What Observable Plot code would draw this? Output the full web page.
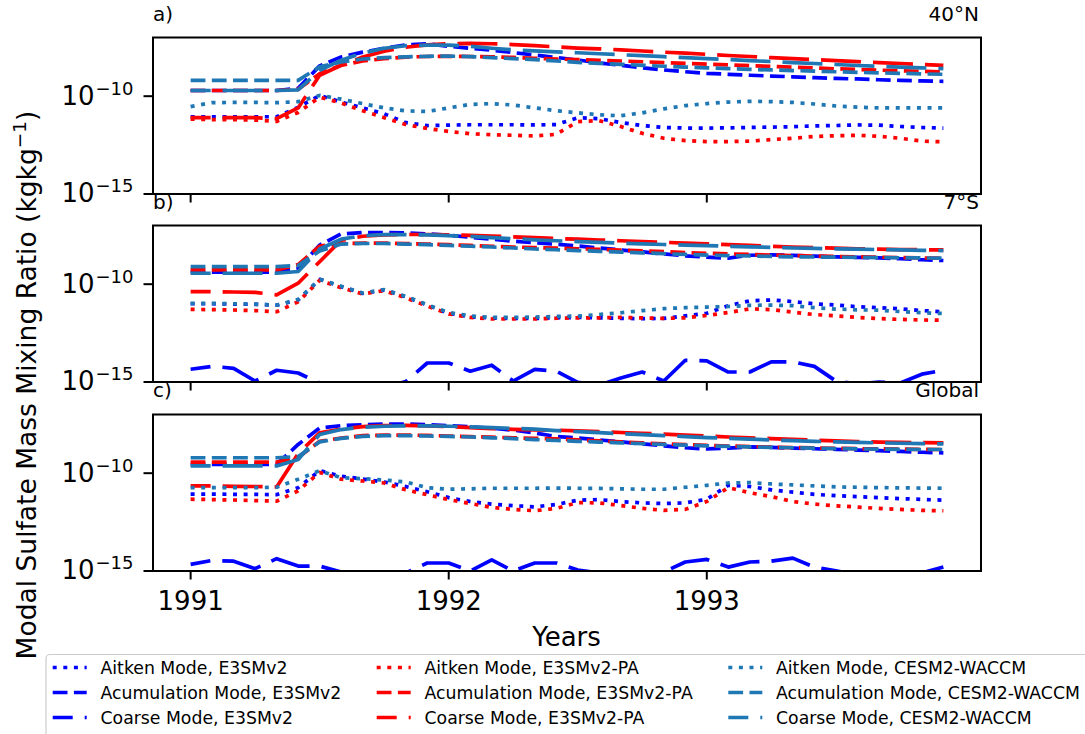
<!DOCTYPE html>
<html>
<head>
<meta charset="utf-8">
<script src="https://cdn.jsdelivr.net/npm/d3@7"></script>
<script src="https://cdn.jsdelivr.net/npm/@observablehq/plot@0.6"></script>
<style>
html, body { margin: 0; padding: 0; background: #fff; }
#fig { position: relative; width: 1085px; height: 734px; overflow: hidden; font-family: "DejaVu Sans", sans-serif; }
#fig > svg { position: absolute; left: 0; overflow: visible; }
</style>
</head>
<body>
<div id="fig"></div>
<script>
// ---------- DATA (log10 of mass mixing ratio, kg/kg), monthly Jan 1991 .. Dec 1993 ----------
const startYear = 1991;
const nMonths = 36;
const xTicks = [1991, 1992, 1993];
const yTicks = [1e-15, 1e-10];

// a) 40°N
const aitken_E3SMv2_40N = [-11.05,-11.05,-11.05,-11.05,-11.05,-10.57,-9.96,-10.3,-10.6,-10.9,-11.35,-11.5,-11.48,-11.46,-11.46,-11.46,-11.47,-11.45,-11.1,-11.15,-11.35,-11.5,-11.6,-11.63,-11.63,-11.62,-11.6,-11.58,-11.56,-11.52,-11.5,-11.47,-11.48,-11.55,-11.6,-11.63];
const accum_E3SMv2_40N = [-9.71,-9.71,-9.71,-9.71,-9.71,-9.6,-8.45,-8.0,-7.75,-7.55,-7.38,-7.32,-7.45,-7.55,-7.65,-7.77,-7.9,-8.02,-8.15,-8.3,-8.42,-8.55,-8.66,-8.75,-8.83,-8.88,-8.93,-8.97,-9.01,-9.05,-9.09,-9.12,-9.16,-9.19,-9.22,-9.24];
const coarse_E3SMv2_40N = [-15.8,-15.9,-15.7,-15.8,-15.9,-15.8,-15.6,-15.7,-15.8,-15.9,-15.8,-15.7,-15.6,-15.7,-15.8,-15.9,-15.8,-15.7,-15.8,-15.9,-15.8,-15.7,-15.6,-15.7,-15.8,-15.9,-15.8,-15.7,-15.8,-15.9,-15.8,-15.7,-15.6,-15.7,-15.8,-15.9];
const aitken_PA_40N = [-11.17,-11.2,-11.2,-11.22,-11.29,-10.83,-10.05,-10.35,-10.75,-11.1,-11.45,-11.65,-11.8,-11.92,-11.97,-12.0,-12.03,-11.95,-11.3,-11.25,-11.55,-11.9,-12.15,-12.27,-12.32,-12.32,-12.3,-12.22,-12.15,-12.06,-12.02,-12.0,-12.05,-12.15,-12.3,-12.33];
const accum_PA_40N = [-9.71,-9.71,-9.71,-9.71,-9.71,-9.65,-8.85,-8.42,-8.2,-8.08,-8.0,-7.97,-7.96,-7.97,-7.99,-8.02,-8.06,-8.1,-8.13,-8.17,-8.2,-8.24,-8.28,-8.32,-8.36,-8.4,-8.44,-8.48,-8.52,-8.56,-8.6,-8.63,-8.67,-8.7,-8.73,-8.76];
const coarse_PA_40N = [-11.1,-11.1,-11.1,-11.1,-11.15,-10.6,-8.93,-8.42,-8.0,-7.7,-7.5,-7.38,-7.32,-7.3,-7.32,-7.36,-7.42,-7.48,-7.54,-7.58,-7.63,-7.69,-7.75,-7.8,-7.86,-7.92,-7.97,-8.03,-8.08,-8.13,-8.18,-8.23,-8.28,-8.33,-8.38,-8.42];
const aitken_CESM_40N = [-10.53,-10.33,-10.32,-10.32,-10.33,-10.28,-9.96,-10.15,-10.38,-10.6,-10.75,-10.78,-10.6,-10.42,-10.38,-10.45,-10.6,-10.74,-10.85,-10.95,-11.0,-10.85,-10.65,-10.48,-10.38,-10.3,-10.26,-10.28,-10.32,-10.4,-10.5,-10.56,-10.6,-10.6,-10.6,-10.6];
const accum_CESM_40N = [-9.19,-9.19,-9.19,-9.19,-9.19,-9.19,-8.5,-8.25,-8.1,-8.03,-7.99,-7.96,-7.95,-7.98,-8.03,-8.08,-8.13,-8.2,-8.27,-8.32,-8.37,-8.42,-8.47,-8.51,-8.55,-8.59,-8.63,-8.66,-8.69,-8.72,-8.75,-8.78,-8.81,-8.83,-8.86,-8.88];
const coarse_CESM_40N = [-9.71,-9.71,-9.71,-9.71,-9.71,-9.68,-8.68,-8.16,-7.8,-7.55,-7.42,-7.39,-7.39,-7.45,-7.55,-7.63,-7.68,-7.73,-7.78,-7.83,-7.88,-7.93,-7.98,-8.03,-8.08,-8.13,-8.18,-8.23,-8.28,-8.33,-8.38,-8.43,-8.47,-8.51,-8.55,-8.59];

// b) 7°S
const aitken_E3SMv2_7S = [-11.0,-11.0,-11.02,-11.03,-11.07,-10.81,-9.75,-10.13,-10.47,-10.3,-10.64,-11.07,-11.49,-11.67,-11.73,-11.75,-11.75,-11.72,-11.7,-11.72,-11.75,-11.76,-11.75,-11.62,-11.49,-11.1,-10.85,-10.81,-10.89,-11.0,-11.07,-11.15,-11.2,-11.26,-11.35,-11.41];
const accum_E3SMv2_7S = [-9.38,-9.38,-9.38,-9.38,-9.38,-9.2,-8.0,-7.43,-7.36,-7.36,-7.38,-7.43,-7.5,-7.6,-7.7,-7.8,-7.88,-7.96,-8.05,-8.15,-8.25,-8.35,-8.45,-8.55,-8.62,-8.67,-8.52,-8.5,-8.53,-8.57,-8.6,-8.63,-8.66,-8.7,-8.75,-8.79];
const coarse_E3SMv2_7S = [-14.35,-14.2,-14.3,-14.95,-14.4,-14.54,-15.05,-15.4,-15.4,-15.3,-14.98,-14.03,-14.03,-14.45,-14.14,-14.95,-14.35,-14.45,-15.02,-15.15,-14.8,-14.49,-14.95,-13.89,-13.92,-14.49,-14.49,-13.97,-13.97,-14.2,-14.95,-15.1,-15.0,-15.05,-14.6,-14.4];
const aitken_PA_7S = [-11.29,-11.3,-11.32,-11.35,-11.41,-10.9,-9.8,-10.18,-10.5,-10.33,-10.7,-11.12,-11.52,-11.7,-11.78,-11.78,-11.78,-11.74,-11.72,-11.72,-11.7,-11.72,-11.75,-11.72,-11.6,-11.45,-11.26,-11.3,-11.43,-11.55,-11.62,-11.7,-11.76,-11.8,-11.83,-11.84];
const accum_PA_7S = [-9.27,-9.27,-9.27,-9.27,-9.27,-9.0,-8.05,-7.92,-7.9,-7.9,-7.92,-7.95,-7.98,-8.02,-8.06,-8.1,-8.13,-8.16,-8.19,-8.22,-8.26,-8.3,-8.34,-8.38,-8.42,-8.45,-8.48,-8.51,-8.54,-8.56,-8.58,-8.6,-8.62,-8.64,-8.66,-8.67];
const coarse_PA_7S = [-10.38,-10.38,-10.4,-10.42,-10.55,-9.95,-8.85,-7.75,-7.55,-7.48,-7.46,-7.46,-7.48,-7.5,-7.54,-7.58,-7.62,-7.67,-7.7,-7.74,-7.78,-7.82,-7.86,-7.9,-7.94,-7.98,-8.02,-8.06,-8.1,-8.13,-8.16,-8.19,-8.21,-8.23,-8.24,-8.25];
const aitken_CESM_7S = [-10.98,-10.98,-11.0,-11.02,-11.07,-10.78,-9.75,-10.1,-10.45,-10.28,-10.62,-11.05,-11.45,-11.62,-11.7,-11.7,-11.68,-11.65,-11.63,-11.55,-11.46,-11.35,-11.25,-11.2,-11.17,-11.14,-11.08,-11.07,-11.1,-11.2,-11.27,-11.31,-11.33,-11.4,-11.46,-11.5];
const accum_CESM_7S = [-9.1,-9.1,-9.1,-9.1,-9.1,-9.05,-8.3,-7.95,-7.92,-7.92,-7.95,-7.98,-8.02,-8.06,-8.1,-8.15,-8.2,-8.24,-8.28,-8.32,-8.36,-8.4,-8.44,-8.48,-8.51,-8.54,-8.56,-8.58,-8.6,-8.61,-8.62,-8.63,-8.64,-8.65,-8.66,-8.67];
const coarse_CESM_7S = [-9.44,-9.44,-9.44,-9.44,-9.44,-9.35,-8.2,-7.7,-7.52,-7.47,-7.47,-7.48,-7.52,-7.56,-7.62,-7.68,-7.73,-7.78,-7.82,-7.86,-7.9,-7.94,-7.97,-8.0,-8.03,-8.06,-8.09,-8.12,-8.15,-8.17,-8.19,-8.21,-8.23,-8.25,-8.27,-8.28];

// c) Global
const aitken_E3SMv2_GL = [-11.07,-11.07,-11.08,-11.08,-11.1,-10.74,-9.87,-10.15,-10.3,-10.45,-10.68,-10.95,-11.25,-11.45,-11.58,-11.66,-11.72,-11.6,-11.38,-11.35,-11.45,-11.52,-11.55,-11.52,-11.33,-10.62,-10.68,-10.85,-10.97,-11.08,-11.15,-11.2,-11.25,-11.3,-11.34,-11.38];
const accum_E3SMv2_GL = [-9.55,-9.55,-9.55,-9.55,-9.55,-8.53,-7.69,-7.57,-7.52,-7.49,-7.49,-7.52,-7.57,-7.63,-7.7,-7.8,-7.95,-8.12,-8.2,-8.3,-8.4,-8.5,-8.6,-8.7,-8.76,-8.72,-8.66,-8.68,-8.72,-8.75,-8.78,-8.82,-8.85,-8.89,-8.93,-8.96];
const coarse_E3SMv2_GL = [-14.66,-14.46,-14.5,-14.88,-14.37,-14.75,-14.75,-15.05,-15.3,-15.3,-15.1,-14.59,-14.59,-15.0,-14.43,-15.0,-14.59,-14.59,-14.95,-15.1,-15.2,-15.2,-15.05,-14.54,-14.41,-14.8,-14.54,-14.5,-14.34,-14.8,-14.99,-15.2,-15.3,-15.3,-15.1,-14.8];
const aitken_PA_GL = [-11.33,-11.35,-11.37,-11.4,-11.43,-10.9,-9.96,-10.31,-10.4,-10.5,-10.85,-11.1,-11.35,-11.55,-11.75,-11.85,-11.92,-11.8,-11.5,-11.52,-11.65,-11.8,-11.9,-11.85,-11.45,-10.74,-11.0,-11.2,-11.45,-11.58,-11.67,-11.73,-11.8,-11.85,-11.9,-11.92];
const accum_PA_GL = [-9.43,-9.43,-9.43,-9.43,-9.43,-9.2,-8.37,-8.2,-8.08,-8.05,-8.05,-8.07,-8.1,-8.13,-8.16,-8.19,-8.22,-8.25,-8.3,-8.35,-8.4,-8.45,-8.5,-8.54,-8.58,-8.61,-8.64,-8.67,-8.69,-8.71,-8.73,-8.75,-8.76,-8.77,-8.78,-8.79];
const coarse_PA_GL = [-10.65,-10.65,-10.67,-10.68,-10.7,-9.0,-7.94,-7.75,-7.62,-7.57,-7.56,-7.58,-7.62,-7.67,-7.72,-7.76,-7.79,-7.8,-7.84,-7.88,-7.92,-7.96,-8.0,-8.05,-8.1,-8.15,-8.19,-8.23,-8.27,-8.31,-8.35,-8.38,-8.41,-8.43,-8.44,-8.45];
const aitken_CESM_GL = [-10.74,-10.74,-10.74,-10.74,-10.72,-10.31,-9.87,-10.23,-10.28,-10.35,-10.45,-10.74,-10.82,-10.8,-10.77,-10.77,-10.77,-10.76,-10.77,-10.78,-10.8,-10.82,-10.82,-10.72,-10.62,-10.5,-10.48,-10.55,-10.6,-10.65,-10.7,-10.72,-10.74,-10.75,-10.76,-10.77];
const accum_CESM_GL = [-9.21,-9.21,-9.21,-9.21,-9.21,-9.15,-8.4,-8.22,-8.12,-8.08,-8.08,-8.1,-8.12,-8.15,-8.19,-8.23,-8.28,-8.33,-8.37,-8.41,-8.45,-8.49,-8.53,-8.57,-8.6,-8.63,-8.66,-8.68,-8.7,-8.72,-8.74,-8.76,-8.77,-8.78,-8.79,-8.79];
const coarse_CESM_GL = [-9.63,-9.63,-9.63,-9.63,-9.63,-9.3,-8.02,-7.77,-7.65,-7.6,-7.58,-7.58,-7.6,-7.63,-7.67,-7.71,-7.75,-7.82,-7.88,-7.93,-7.98,-8.03,-8.08,-8.13,-8.18,-8.22,-8.26,-8.3,-8.34,-8.37,-8.4,-8.43,-8.45,-8.47,-8.49,-8.5];

const models = ["E3SMv2", "E3SMv2-PA", "CESM2-WACCM"];
const modes = ["Aitken Mode", "Acumulation Mode", "Coarse Mode"];
const modelColors = {"E3SMv2": "#0000ff", "E3SMv2-PA": "#ff0000", "CESM2-WACCM": "#1f77b4"};
const modeDash = {"Aitken Mode": {dash: "4,6.6", offset: 0}, "Acumulation Mode": {dash: "14.8,6.4", offset: 0}, "Coarse Mode": {dash: "40,12", offset: 20}};

const panels = [
  {tag: "a)", region: "40°N", top: 36.5, showX: false, series: {
    "E3SMv2": [aitken_E3SMv2_40N, accum_E3SMv2_40N, coarse_E3SMv2_40N],
    "E3SMv2-PA": [aitken_PA_40N, accum_PA_40N, coarse_PA_40N],
    "CESM2-WACCM": [aitken_CESM_40N, accum_CESM_40N, coarse_CESM_40N]}},
  {tag: "b)", region: "7°S", top: 225, showX: false, series: {
    "E3SMv2": [aitken_E3SMv2_7S, accum_E3SMv2_7S, coarse_E3SMv2_7S],
    "E3SMv2-PA": [aitken_PA_7S, accum_PA_7S, coarse_PA_7S],
    "CESM2-WACCM": [aitken_CESM_7S, accum_CESM_7S, coarse_CESM_7S]}},
  {tag: "c)", region: "Global", top: 413.5, showX: true, series: {
    "E3SMv2": [aitken_E3SMv2_GL, accum_E3SMv2_GL, coarse_E3SMv2_GL],
    "E3SMv2-PA": [aitken_PA_GL, accum_PA_GL, coarse_PA_GL],
    "CESM2-WACCM": [aitken_CESM_GL, accum_CESM_GL, coarse_CESM_GL]}}
];

// ---------- LAYOUT ----------
const W = 1085, ML = 152.5, MR = 104.5, PH = 156.5, MT = 10;
const FONT = "DejaVu Sans";
const LW = 3.7;
const xDomain = [startYear - 0.1458, startYear + (nMonths - 1) / 12 + 0.1458];
const fig = document.getElementById("fig");
const NS = "http://www.w3.org/2000/svg";

for (const p of panels) {
  const marks = [];
  for (const model of models) {
    p.series[model].forEach((logs, k) => {
      const mode = modes[k];
      const rows = logs.map((L, i) => ({t: startYear + i / 12, v: Math.pow(10, L)}));
      marks.push(Plot.line(rows, {
        x: "t", y: "v", stroke: modelColors[model], strokeWidth: LW,
        strokeDasharray: modeDash[mode].dash, strokeDashoffset: modeDash[mode].offset,
        strokeLinecap: "butt", strokeLinejoin: "round", clip: true
      }));
    });
  }
  marks.push(Plot.frame({stroke: "black", strokeWidth: 2}));
  marks.push(Plot.axisX({ticks: xTicks, tickSize: 9, tickPadding: 12, strokeWidth: 2, fontSize: 26,
    tickFormat: p.showX ? (d => String(d)) : (() => ""), label: null}));
  marks.push(Plot.axisY({ticks: yTicks, tickSize: 9, tickPadding: 10.5, strokeWidth: 2, fontSize: 26,
    tickFormat: d => "10^" + Math.round(Math.log10(d)), label: null}));
  const MB = p.showX ? 60 : 20;
  const svg = Plot.plot({
    width: W, height: MT + PH + MB,
    marginTop: MT, marginBottom: MB, marginLeft: ML, marginRight: MR,
    x: {domain: xDomain},
    y: {type: "log", domain: [1e-15, 1e-7]},
    style: {fontFamily: FONT, fontSize: "26px", color: "black", background: "transparent", overflow: "visible"},
    marks
  });
  svg.style.position = "absolute";
  svg.style.top = (p.top - MT) + "px";
  svg.style.left = "0px";
  // superscript exponents on y tick labels
  svg.querySelectorAll("text").forEach(t => {
    const s = t.textContent;
    if (s.startsWith("10^")) {
      const exp = s.slice(3);
      t.textContent = "";
      const base = document.createElementNS(NS, "tspan");
      base.textContent = "10";
      const sup = document.createElementNS(NS, "tspan");
      sup.textContent = exp.replace("-", "\u2212");
      sup.setAttribute("font-size", "18");
      sup.setAttribute("dy", "-10");
      sup.setAttribute("dx", "1");
      t.append(base, sup);
    }
  });
  fig.appendChild(svg);
}

// ---------- OVERLAY: panel tags, axis titles, legend ----------
const ov = document.createElementNS(NS, "svg");
ov.setAttribute("width", W);
ov.setAttribute("height", 734);
ov.style.top = "0px";
ov.style.fontFamily = FONT;
function txt(x, y, s, size, anchor, parent) {
  const t = document.createElementNS(NS, "text");
  t.setAttribute("x", x); t.setAttribute("y", y);
  t.setAttribute("font-size", size); t.setAttribute("text-anchor", anchor || "start");
  t.setAttribute("fill", "black");
  t.textContent = s;
  (parent || ov).appendChild(t);
  return t;
}
const tagBase = [20.5, 208.5, 397];
panels.forEach((p, i) => {
  txt(ML + 0.5, tagBase[i], p.tag, 20, "start");
  txt(W - MR - 1.5, tagBase[i], p.region, 20, "end");
});
txt(ML + (W - ML - MR) / 2, 646, "Years", 26, "middle");

// y title with superscript
const yl = document.createElementNS(NS, "text");
yl.setAttribute("transform", "translate(36,385) rotate(-90)");
yl.setAttribute("text-anchor", "middle");
yl.setAttribute("font-size", 26.5);
yl.setAttribute("fill", "black");
const y1 = document.createElementNS(NS, "tspan"); y1.textContent = "Modal Sulfate Mass Mixing Ratio (kgkg";
const y2 = document.createElementNS(NS, "tspan"); y2.textContent = "\u22121"; y2.setAttribute("font-size", 18.5); y2.setAttribute("dy", "-10");
const y3 = document.createElementNS(NS, "tspan"); y3.textContent = ")"; y3.setAttribute("dy", "10");
yl.append(y1, y2, y3);
ov.appendChild(yl);

// legend
const box = document.createElementNS(NS, "rect");
box.setAttribute("x", 46); box.setAttribute("y", 654.5);
box.setAttribute("width", 1060); box.setAttribute("height", 100);
box.setAttribute("rx", 4);
box.setAttribute("fill", "white"); box.setAttribute("fill-opacity", 0.8);
box.setAttribute("stroke", "#cccccc"); box.setAttribute("stroke-width", 1.2);
ov.appendChild(box);
const legCols = [{hx: 52.7, tx: 100.5}, {hx: 376.7, tx: 424.5}, {hx: 728.3, tx: 776}];
const legRowsY = [667.5, 692.5, 717.5];
const legRowsBase = [674, 699, 724];
models.forEach((model, c) => {
  modes.forEach((mode, r) => {
    const ln = document.createElementNS(NS, "line");
    ln.setAttribute("x1", legCols[c].hx); ln.setAttribute("x2", legCols[c].hx + 34);
    ln.setAttribute("y1", legRowsY[r]); ln.setAttribute("y2", legRowsY[r]);
    ln.setAttribute("stroke", modelColors[model]); ln.setAttribute("stroke-width", LW);
    ln.setAttribute("stroke-dasharray", modeDash[mode].dash);
    ln.setAttribute("stroke-dashoffset", modeDash[mode].offset);
    ov.appendChild(ln);
    txt(legCols[c].tx, legRowsBase[r], mode + ", " + model, 17.3, "start");
  });
});
fig.appendChild(ov);
</script>
</body>
</html>
